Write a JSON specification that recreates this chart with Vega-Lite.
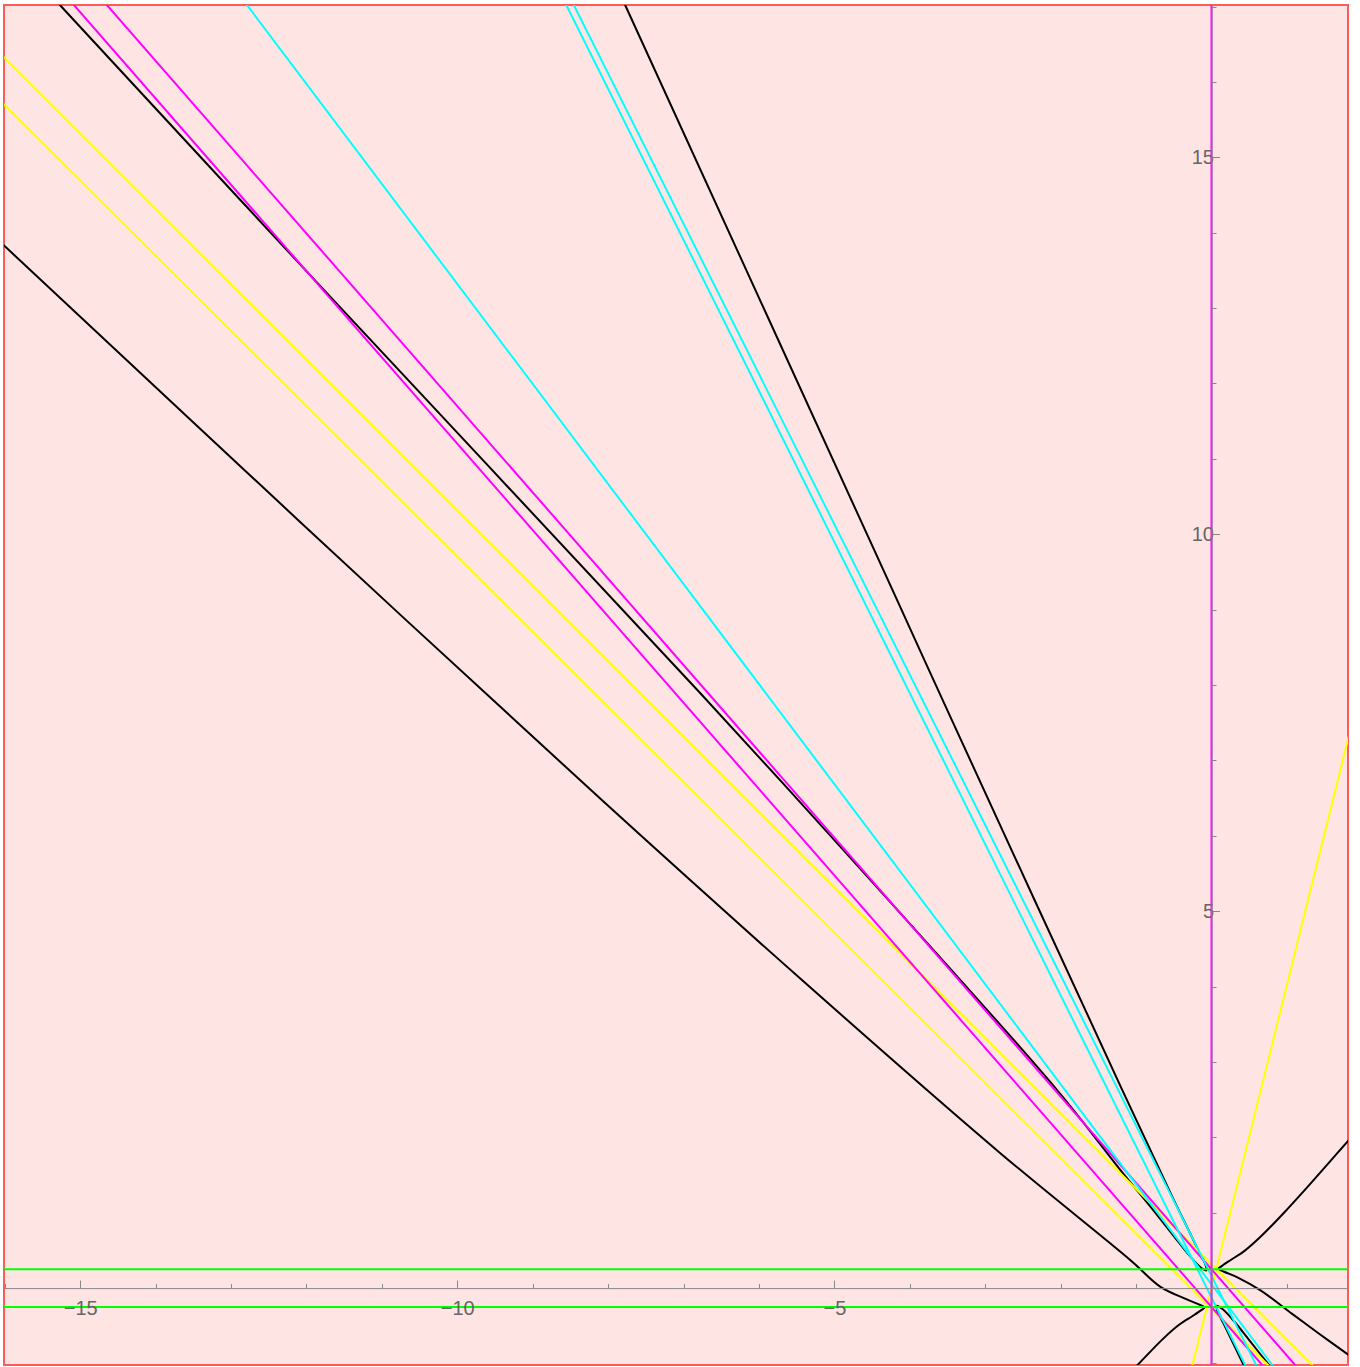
{
  "$schema": "https://vega.github.io/schema/vega-lite/v6.json",
  "width": 1344,
  "height": 1360,
  "autosize": {"type": "none"},
  "padding": {"left": 4, "top": 5, "right": 12, "bottom": 2},
  "background": "white",
  "view": {"fill": "#ffe4e4", "stroke": "#ff5a5a", "strokeWidth": 2},
  "data": {
    "values": [
      {"s": "H1L", "g": "k", "i": 1, "x": -16.3, "y": 14.1},
      {"s": "H1L", "g": "k", "i": 2, "x": -16.01, "y": 13.83},
      {"s": "H1L", "g": "k", "i": 3, "x": -12.08, "y": 10.16},
      {"s": "H1L", "g": "k", "i": 4, "x": -8.08, "y": 6.47},
      {"s": "H1L", "g": "k", "i": 5, "x": -5.4, "y": 4.06},
      {"s": "H1L", "g": "k", "i": 6, "x": -2.8, "y": 1.79},
      {"s": "H1L", "g": "k", "i": 7, "x": -1.074, "y": 0.37},
      {"s": "H1L", "g": "k", "i": 8, "x": -0.676, "y": 0.017},
      {"s": "H1L", "g": "k", "i": 9, "x": -0.35, "y": -0.14},
      {"s": "H1L", "g": "k", "i": 10, "x": -0.16, "y": -0.22},
      {"s": "H1L", "g": "k", "i": 11, "x": -0.09, "y": -0.255},
      {"s": "H1L", "g": "k", "i": 12, "x": -0.14, "y": -0.295},
      {"s": "H1L", "g": "k", "i": 13, "x": -0.25, "y": -0.37},
      {"s": "H1L", "g": "k", "i": 14, "x": -0.434, "y": -0.49},
      {"s": "H1L", "g": "k", "i": 15, "x": -0.65, "y": -0.68},
      {"s": "H1L", "g": "k", "i": 16, "x": -0.98, "y": -1.02},
      {"s": "H1L", "g": "k", "i": 17, "x": -1.1, "y": -1.14},

      {"s": "H1R", "g": "k", "i": 1, "x": 1.95, "y": -0.98},
      {"s": "H1R", "g": "k", "i": 2, "x": 1.82, "y": -0.889},
      {"s": "H1R", "g": "k", "i": 3, "x": 1.4, "y": -0.585},
      {"s": "H1R", "g": "k", "i": 4, "x": 1.074, "y": -0.345},
      {"s": "H1R", "g": "k", "i": 5, "x": 0.65, "y": -0.03},
      {"s": "H1R", "g": "k", "i": 6, "x": 0.35, "y": 0.14},
      {"s": "H1R", "g": "k", "i": 7, "x": 0.16, "y": 0.22},
      {"s": "H1R", "g": "k", "i": 8, "x": 0.09, "y": 0.255},
      {"s": "H1R", "g": "k", "i": 9, "x": 0.14, "y": 0.295},
      {"s": "H1R", "g": "k", "i": 10, "x": 0.25, "y": 0.37},
      {"s": "H1R", "g": "k", "i": 11, "x": 0.434, "y": 0.49},
      {"s": "H1R", "g": "k", "i": 12, "x": 0.65, "y": 0.68},
      {"s": "H1R", "g": "k", "i": 13, "x": 0.98, "y": 1.02},
      {"s": "H1R", "g": "k", "i": 14, "x": 1.357, "y": 1.436},
      {"s": "H1R", "g": "k", "i": 15, "x": 1.82, "y": 1.963},
      {"s": "H1R", "g": "k", "i": 16, "x": 1.95, "y": 2.11},

      {"s": "H2U", "g": "k", "i": 1, "x": -15.5, "y": 17.27},
      {"s": "H2U", "g": "k", "i": 2, "x": -15.26, "y": 17.01},
      {"s": "H2U", "g": "k", "i": 3, "x": -11.88, "y": 13.36},
      {"s": "H2U", "g": "k", "i": 4, "x": -6.777, "y": 7.89},
      {"s": "H2U", "g": "k", "i": 5, "x": -4.88, "y": 5.81},
      {"s": "H2U", "g": "k", "i": 6, "x": -2.05, "y": 2.63},
      {"s": "H2U", "g": "k", "i": 7, "x": -1.207, "y": 1.565},
      {"s": "H2U", "g": "k", "i": 8, "x": -0.81, "y": 1.08},
      {"s": "H2U", "g": "k", "i": 9, "x": -0.5, "y": 0.69},
      {"s": "H2U", "g": "k", "i": 10, "x": -0.3, "y": 0.44},
      {"s": "H2U", "g": "k", "i": 11, "x": -0.15, "y": 0.28},
      {"s": "H2U", "g": "k", "i": 12, "x": -0.07, "y": 0.235},
      {"s": "H2U", "g": "k", "i": 13, "x": -0.08, "y": 0.31},
      {"s": "H2U", "g": "k", "i": 14, "x": -0.16, "y": 0.47},
      {"s": "H2U", "g": "k", "i": 15, "x": -0.3, "y": 0.76},
      {"s": "H2U", "g": "k", "i": 16, "x": -0.5, "y": 1.17},
      {"s": "H2U", "g": "k", "i": 17, "x": -1.184, "y": 2.63},
      {"s": "H2U", "g": "k", "i": 18, "x": -3.462, "y": 7.577},
      {"s": "H2U", "g": "k", "i": 19, "x": -4.168, "y": 9.125},
      {"s": "H2U", "g": "k", "i": 20, "x": -7.77, "y": 17.01},
      {"s": "H2U", "g": "k", "i": 21, "x": -7.85, "y": 17.185},

      {"s": "H2D", "g": "k", "i": 1, "x": 0.9, "y": -1.19},
      {"s": "H2D", "g": "k", "i": 2, "x": 0.81, "y": -1.08},
      {"s": "H2D", "g": "k", "i": 3, "x": 0.5, "y": -0.69},
      {"s": "H2D", "g": "k", "i": 4, "x": 0.3, "y": -0.44},
      {"s": "H2D", "g": "k", "i": 5, "x": 0.15, "y": -0.28},
      {"s": "H2D", "g": "k", "i": 6, "x": 0.07, "y": -0.235},
      {"s": "H2D", "g": "k", "i": 7, "x": 0.08, "y": -0.31},
      {"s": "H2D", "g": "k", "i": 8, "x": 0.16, "y": -0.47},
      {"s": "H2D", "g": "k", "i": 9, "x": 0.3, "y": -0.76},
      {"s": "H2D", "g": "k", "i": 10, "x": 0.5, "y": -1.17},

      {"s": "Y1", "g": "y", "i": 1, "x": -16.2, "y": 16.515},
      {"s": "Y1", "g": "y", "i": 2, "x": 1.5, "y": -1.185},
      {"s": "Y2", "g": "y", "i": 1, "x": -16.2, "y": 15.89},
      {"s": "Y2", "g": "y", "i": 2, "x": 0.95, "y": -1.22},
      {"s": "Y3", "g": "y", "i": 1, "x": -0.3, "y": -1.213},
      {"s": "Y3", "g": "y", "i": 2, "x": 1.9, "y": 7.642},

      {"s": "M1", "g": "m", "i": 1, "x": -15.2, "y": 17.154},
      {"s": "M1", "g": "m", "i": 2, "x": 0.8, "y": -1.166},
      {"s": "M2", "g": "m", "i": 1, "x": -14.8, "y": 17.196},
      {"s": "M2", "g": "m", "i": 2, "x": 1.2, "y": -1.124},

      {"s": "C1", "g": "c", "i": 1, "x": -12.92, "y": 17.195},
      {"s": "C1", "g": "c", "i": 2, "x": 0.9, "y": -1.144},
      {"s": "C2", "g": "c", "i": 1, "x": -8.65, "y": 17.21},
      {"s": "C2", "g": "c", "i": 2, "x": 0.5, "y": -1.126},
      {"s": "C3", "g": "c", "i": 1, "x": -8.55, "y": 17.209},
      {"s": "C3", "g": "c", "i": 2, "x": 0.65, "y": -1.135},

      {"s": "G1", "g": "g", "i": 1, "x": -16.3, "y": 0.25},
      {"s": "G1", "g": "g", "i": 2, "x": 2.0, "y": 0.25},
      {"s": "G2", "g": "g", "i": 1, "x": -16.3, "y": -0.25},
      {"s": "G2", "g": "g", "i": 2, "x": 2.0, "y": -0.25},

      {"s": "M3", "g": "m", "i": 1, "x": 0, "y": -1.3},
      {"s": "M3", "g": "m", "i": 2, "x": 0, "y": 17.3}
    ]
  },
  "mark": {"type": "line", "clip": true, "strokeWidth": 2, "interpolate": "catmull-rom"},
  "encoding": {
    "x": {
      "field": "x",
      "type": "quantitative",
      "scale": {"domain": [-16.01, 1.81], "nice": false, "zero": false},
      "axis": {
        "orient": "bottom",
        "offset": -76.9,
        "title": null,
        "grid": false,
        "values": [-16, -15, -14, -13, -12, -11, -10, -9, -8, -7, -6, -5, -4, -3, -2, -1, 1],
        "labelExpr": "datum.value % 5 === 0 ? datum.label : ''",
        "tickSize": {"condition": {"test": "datum.value % 5 === 0", "value": -8}, "value": -4.5},
        "tickColor": "#888888",
        "domainColor": "#888888",
        "labelColor": "#666666",
        "labelFont": "Liberation Sans",
        "labelFontSize": 20,
        "labelPadding": 18,
        "labelFlush": false,
        "labelOverlap": false,
        "zindex": 1
      }
    },
    "y": {
      "field": "y",
      "type": "quantitative",
      "scale": {"domain": [-1.02, 17.02], "nice": false, "zero": false},
      "axis": {
        "orient": "left",
        "offset": -1207.5,
        "title": null,
        "grid": false,
        "values": [-1, 1, 2, 3, 4, 5, 6, 7, 8, 9, 10, 11, 12, 13, 14, 15, 16, 17],
        "labelExpr": "datum.value % 5 === 0 ? datum.label : ''",
        "tickSize": {"condition": {"test": "datum.value % 5 === 0", "value": -8}, "value": -4.5},
        "tickColor": "#888888",
        "domainColor": "#888888",
        "labelColor": "#666666",
        "labelFont": "Liberation Sans",
        "labelFontSize": 20,
        "labelPadding": 6,
        "labelFlush": false,
        "labelOverlap": false,
        "zindex": 1
      }
    },
    "detail": {"field": "s", "type": "nominal"},
    "order": {"field": "i", "type": "quantitative"},
    "color": {
      "field": "g",
      "type": "nominal",
      "scale": {"domain": ["k", "y", "m", "c", "g"], "range": ["#000000", "#ffff00", "#ff00ff", "#00ffff", "#00ff00"]},
      "legend": null
    }
  }
}
